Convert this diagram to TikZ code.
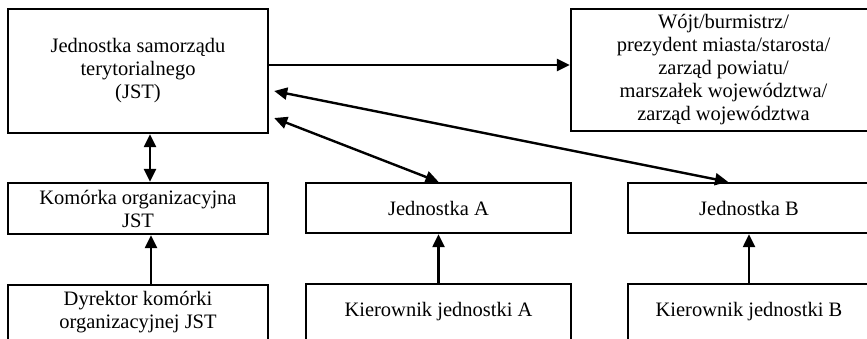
\documentclass[tikz,border=0pt]{standalone}
\usepackage{fontspec}
\setmainfont{Liberation Serif}
\usetikzlibrary{arrows.meta}
\begin{document}
\begin{tikzpicture}[x=1pt,y=-1pt,
  box/.style={draw,line width=2.4pt,inner sep=0pt,align=center,font=\fontsize{20.5}{23}\selectfont},
  arr/.style={line width=2.4pt,-{Triangle[length=13pt,width=12pt]}},
  darr/.style={line width=2.4pt,{Triangle[length=13pt,width=12pt]}-{Triangle[length=13pt,width=12pt]}}]
\useasboundingbox (0,0) rectangle (867,338);
\clip (0,0) rectangle (867,338);
\node[box,minimum width=260pt,minimum height=124pt] (jst) at (138,71) {Jednostka samorządu\\terytorialnego\\(JST)};
\node[box,minimum width=305pt,minimum height=122pt] (wojt) at (723.5,70) {Wójt/burmistrz/\\prezydent miasta/starosta/\\zarząd powiatu/\\marszałek województwa/\\zarząd województwa};
\node[box,minimum width=260pt,minimum height=51pt] (kom) at (138,208.5) {Komórka organizacyjna\\JST};
\node[box,minimum width=265pt,minimum height=50pt] (ja) at (438.5,208) {Jednostka A};
\node[box,minimum width=242pt,minimum height=50pt] (jb) at (749,208) {Jednostka B};
\node[box,minimum width=260pt,minimum height=55pt] (dyr) at (138,312.5) {Dyrektor komórki\\organizacyjnej JST};
\node[box,minimum width=265pt,minimum height=56pt] (ka) at (438.5,312) {Kierownik jednostki A};
\node[box,minimum width=242pt,minimum height=56pt] (kb) at (749,312) {Kierownik jednostki B};
\draw[arr] ([yshift=6pt]jst.east) -- ([yshift=6pt]jst.east -| wojt.west);
\draw[darr] ([shift={(5pt,-20pt)}]jst.east) -- ([xshift=-21pt]jb.north);
\draw[darr] ([shift={(5pt,-47pt)}]jst.east) -- (ja.north);
\draw[darr] ([xshift=12pt]jst.south) -- ([xshift=12pt]kom.north);
\draw[arr] ([xshift=13pt]dyr.north) -- ([xshift=13pt]kom.south);
\draw[arr] (ka.north) -- (ja.south);
\draw[arr] (kb.north) -- (jb.south);
\end{tikzpicture}
\end{document}
